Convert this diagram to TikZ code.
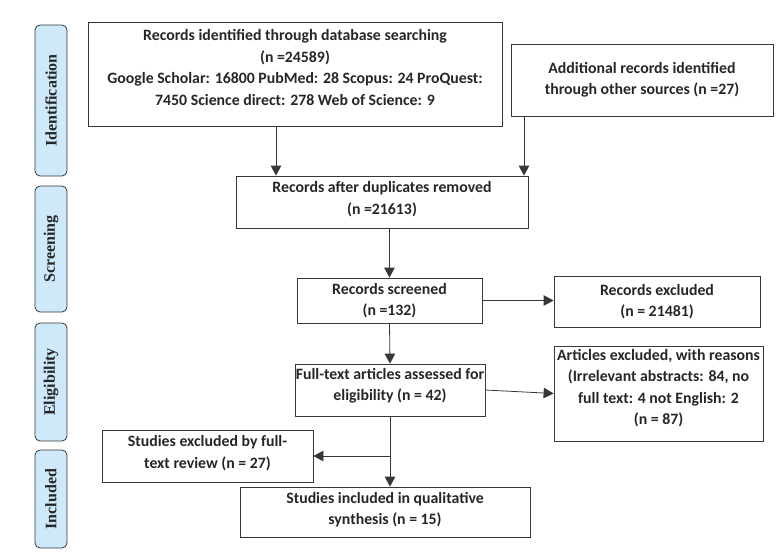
\documentclass[tikz,border=0pt]{standalone}
\usepackage{fontspec}
\setmainfont{Carlito}
\newfontfamily\phasefont{Liberation Serif}
\usetikzlibrary{arrows.meta}
\definecolor{phasefill}{RGB}{206,233,250}
\definecolor{linegray}{RGB}{55,55,55}
\begin{document}
\begin{tikzpicture}[x=1pt,y=-1pt,
  box/.style={draw=linegray, line width=0.8pt, align=center, inner sep=0pt,
    font=\fontsize{15.8}{21.5}\selectfont\bfseries, text=black!85},
  phase/.style={draw=linegray, line width=0.8pt, fill=phasefill, rounded corners=5pt,
    minimum width=32pt, inner sep=0pt},
  phasetext/.style={rotate=90, font=\phasefont\fontsize{16}{18}\selectfont\bfseries, text=black!85},
  arr/.style={draw=linegray, line width=0.8pt, -{Triangle[length=10pt,width=10.5pt]}}]
\useasboundingbox (0,0) rectangle (781,555);
% phase boxes
\node[phase, minimum height=151pt] (pid) at (51,100.5) {};
\node[phasetext] (tid) at (pid.center) {Identification};
\node[phase, minimum height=126pt] (psc) at (51,249) {};
\node[phasetext] (tsc) at (psc.center) {Screening};
\node[phase, minimum height=118pt] (pel) at (51,382) {};
\node[phasetext] (tel) at (pel.center) {Eligibility};
\node[phase, minimum height=98pt] (pin) at (51,499) {};
\node[phasetext] (tin) at (pin.center) {Included};
% flow boxes
\node[box, minimum width=414pt, minimum height=104pt, text depth=13pt] (b1) at (295,74)
  {Records identified through database searching\\(n =24589)\\Google Scholar: 16800 PubMed: 28 Scopus: 24 ProQuest:\\7450 Science direct: 278 Web of Science: 9};
\node[box, minimum width=262pt, minimum height=72pt] (add) at (642,80)
  {Additional records identified\\through other sources (n =27)};
\node[box, minimum width=292pt, minimum height=52pt, text depth=8pt] (dup) at (382,202)
  {Records after duplicates removed\\(n =21613)};
\node[box, minimum width=185pt, minimum height=45pt] (scr) at (389.5,300.5)
  {Records screened\\(n =132)};
\node[box, minimum width=206pt, minimum height=51pt] (rexc) at (657,301.5)
  {Records excluded\\(n = 21481)};
\node[box, minimum width=190pt, minimum height=52pt, text depth=11pt] (ft) at (390,390)
  {Full-text articles assessed for\\eligibility (n = 42)};
\node[box, minimum width=209pt, minimum height=95pt, text depth=13pt] (aexc) at (658.5,393.5)
  {Articles excluded, with reasons\\(Irrelevant abstracts: 84, no\\full text: 4 not English: 2\\(n = 87)};
\node[box, minimum width=211pt, minimum height=52pt, text depth=8pt] (sexc) at (207.5,456)
  {Studies excluded by full-\\text review (n = 27)};
\node[box, minimum width=290pt, minimum height=50pt, text depth=7pt] (sinc) at (385,512)
  {Studies included in qualitative\\synthesis (n = 15)};
% connectors
\coordinate (x1) at (276,0);
\coordinate (x2) at (524,0);
\draw[arr] (b1.south -| x1) -- (dup.north -| x1);
\draw[arr] (add.south -| x2) -- (dup.north -| x2);
\draw[arr] (dup.south -| scr.north) -- (scr.north);
\draw[arr] (scr.east) -- (scr.east -| rexc.west);
\draw[arr] (scr.south) -- (ft.north);
\draw[arr] (ft.east) -- (aexc.west);
\draw[arr] (ft.south) -- (ft.south |- sinc.north);
\coordinate (br) at (ft.south |- sexc.east);
\draw[arr] (br) -- (sexc.east);
\end{tikzpicture}
\end{document}
